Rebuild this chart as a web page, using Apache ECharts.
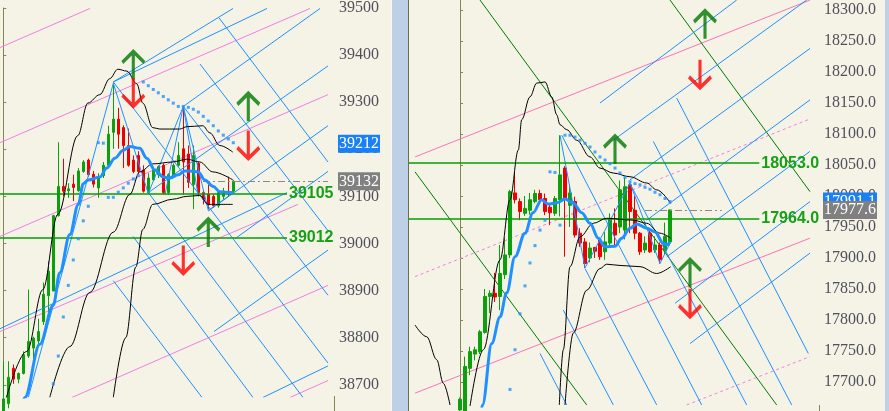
<!DOCTYPE html>
<html><head><meta charset="utf-8">
<script src="https://cdn.jsdelivr.net/npm/echarts@6/dist/echarts.min.js"></script>
<style>html,body{margin:0;padding:0;background:#F5F3E6;}#c{width:889px;height:411px;}</style>
</head><body><div id="c"></div><script>
// ---------- LEFT PANEL DATA ----------
const leftOpen  = [38640,38660,38735,38712,38724,38761,38778,38793,38834,38889,38899,39059,39121,39112,39126,39112,39153,39177,39147,39118,39144,39166,39236,39264,39246,39208,39177,39187,39156,39108,39135,39146,39166,39108,39142,39166,39201,39190,39125,39170,39108,39104,39100,39080,39100,39111,39111];
const leftHigh  = [38750,38750,38743,38726,38771,38902,38802,38840,38917,38962,39061,39215,39180,39128,39146,39160,39177,39180,39154,39149,39173,39250,39340,39288,39251,39244,39187,39196,39166,39149,39163,39166,39170,39149,39170,39215,39291,39208,39208,39173,39114,39125,39104,39112,39118,39142,39135];
const leftLow   = [38630,38650,38702,38703,38722,38757,38745,38786,38827,38844,38899,39057,39100,39097,39090,39110,39150,39142,39119,39097,39139,39163,39201,39201,39160,39163,39149,39149,39108,39106,39132,39139,39104,39104,39139,39163,39104,39118,39073,39100,39083,39073,39076,39076,39094,39100,39108];
const leftClose = [38670,38716,38712,38724,38764,38792,38799,38813,38892,38941,39059,39121,39111,39116,39119,39154,39173,39146,39126,39139,39166,39232,39264,39232,39208,39166,39153,39153,39111,39139,39156,39163,39108,39146,39166,39187,39173,39130,39187,39108,39094,39083,39080,39108,39111,39108,39132];
const leftMA = [[3,38620],[4.3,38673],[7.3,38786],[10,38869],[11.3,38938],[13.3,39019],[15,39083],[16,39127],[17,39135],[19.3,39141],[20.7,39160],[22.3,39181],[24,39198],[25.3,39206],[27.3,39202],[28.7,39181],[30.3,39156],[32,39141],[33.3,39139],[35,39146],[36.3,39154],[37.3,39154],[39,39152],[40.3,39135],[42,39121],[43.3,39110],[45.3,39108],[46,39108]];
const leftBandUpper = [[0,38650],[4.7,38771],[7.9,38902],[10.9,39062],[14.9,39229],[16.9,39298],[19.3,39316],[21.3,39350],[22.9,39370],[24.7,39366],[26.7,39339],[27.9,39298],[29.9,39246],[31.3,39243],[35.3,39243],[36.7,39248],[39.9,39250],[41.3,39235],[43.3,39208],[45.9,39194]];
const leftBandMid = [[9.3,38673],[13.3,38781],[17.3,38896],[22,39024],[25.3,39104],[27.3,39152],[29.9,39169],[33.9,39173],[36.7,39179],[39.3,39173],[41.9,39152],[45.9,39135]];
const leftBandLower = [[22,38673],[24.5,38800],[26.5,38950],[27.9,39030],[29.9,39083],[33.9,39094],[36.7,39100],[39.3,39102],[41,39083],[45.9,39083]];
const leftSAR = [[10,38702],[11,38761],[12,38844],[13,38911],[14,38965],[15,39010],[16,39048],[17,39079],[19,39214],[20,39213],[21,39098],[22,39098],[23,39109],[24,39118],[25,39128],[26,39137],[27,39144],[28,39343],[29,39335],[30,39327],[31,39320],[32,39312],[33,39305],[34,39298],[35,39291],[36,39291],[37,39289],[38,39285],[39,39279],[40,39270],[41,39260],[42,39250],[43,39239],[44,39230],[45,39222],[46,39214]];
const leftLevels = [39105, 39012];
const leftLast = 39132;
const leftSarLast = 39212;
const leftTicks = [38700,38800,38900,39000,39100,39200,39300,39400,39500];
const leftZigzag = [[5,38673],[22,39340],[29,39106],[36,39291],[41,39070],[46,39108]];
const leftBlueLines = [
  [[22,39343],[52.74,39499]],[[22,39343],[45.94,39499]],[[-0.66,38819],[56.74,39108]],
  [[22,39343],[64.94,38746]],[[43.14,39479],[64.94,39173]],[[39.34,39381],[64.94,39027]],
  [[36,39291],[64.94,38890]],[[29,39108],[59.94,38673]],[[25.94,39015],[49.94,38673]],
  [[22,38921],[39.74,38673]],[[36,39291],[63.34,39499]],[[29,39108],[64.94,39377]],
  [[41,39069],[64.94,39250]],[[46.34,39010],[64.94,39153]],[[42.14,38813],[64.94,38986]],
  [[51.94,38673],[64.94,38740]],[[36,39291],[32.34,39104]],[[36,39291],[38.94,39104]]
];
const leftPinkLines = [
  [[-0.66,39416],[17.34,39499]],[[-0.66,39214],[61.34,39499]],[[-0.66,39015],[64.94,39316]],
  [[-0.66,38813],[58.94,39083]],[[13.74,38673],[64.94,38911]],[[57.34,38673],[64.94,38709]]
];
const leftArrowsUp = [[26,39378],[49,39289],[41,39022]];
const leftArrowsDown = [[26,39321],[49,39210],[36,38966]];

// ---------- RIGHT PANEL DATA ----------
const rightOpen  = [17655,17640,17722,17745,17749,17780,17838,17843,17838,17873,17905,18005,17991,17972,17977,17991,18004,17996,17982,17972,17994,18045,17985,17991,17940,17926,17900,17917,17929,17910,17924,17956,17950,17945,18018,17977,17940,17913,17940,17913,17921,17912,17926];
const rightHigh  = [17675,17741,17757,17757,17784,17850,17848,17876,17921,17932,18010,18039,17996,18000,18005,18010,18010,18004,17988,18000,18098,18048,18018,17999,17948,17932,17925,17918,17932,17942,17972,17980,18025,18030,18021,18000,17942,17935,17944,17935,17925,17957,17978];
const rightLow   = [17650,17630,17711,17735,17745,17778,17811,17829,17816,17866,17900,17988,17961,17968,17970,17988,17988,17969,17953,17968,17967,17902,17950,17933,17918,17884,17893,17900,17897,17897,17918,17920,17940,17930,17940,17930,17905,17908,17908,17908,17891,17905,17920];
const rightClose = [17672,17725,17749,17752,17781,17838,17843,17837,17875,17905,18007,17994,17975,17980,17994,18004,17994,17975,17973,17996,18034,17996,18005,17937,17924,17891,17916,17911,17902,17926,17964,17937,18010,18015,17975,17940,17910,17924,17910,17921,17897,17935,17977.6];
const rightMA = [[4,17640],[4.5,17663],[6.34,17762],[8,17805],[9.34,17844],[11,17902],[13,17940],[14.6,17973],[16.34,17994],[17.6,17987],[19.34,17989],[21,17995],[22.6,17989],[24.34,17973],[26,17956],[27.66,17932],[29,17918],[31,17919],[32.34,17932],[34,17948],[35.34,17955],[37.34,17948],[39,17942],[40.66,17924],[41.34,17921],[42,17926]];
const rightBandUpper = [[2,17661],[4.66,17752],[8,17897],[10,17994],[11.66,18074],[12.34,18123],[14,18160],[15.34,18182],[17,18184],[18.34,18160],[19.34,18131],[20,18115],[21.34,18107],[23.34,18090],[26,18063],[28,18045],[30.66,18037],[34,18031],[37.34,18021],[39.34,18010],[42.14,17988]];
const rightBandMid = [[19.86,17663],[20.66,17752],[22,17886],[24,17934],[26.66,17956],[29.34,17964],[34.66,17961],[37.34,17956],[40,17940],[42.14,17932]];
const rightBandLower = [[21,17663],[22.66,17779],[25.34,17848],[28,17883],[29.34,17890],[32,17888],[36,17886],[39.34,17875],[42.14,17886]];
const rightBandOld = [[-9,17792],[-6.66,17773],[-4.66,17736],[-3.34,17698],[-2,17663]];
const rightSAR = [[10,17688],[11,17752],[12,17810],[13,17855],[14,17892],[15,17920],[16,17945],[17,17961],[18,18039],[19,18038],[20,17953],[21,18098],[22,18098],[23,18095],[24,18090],[25,18085],[26,18079],[27,18071],[28,18063],[29,18058],[30,18052],[31,18045],[32,18037],[33,18030],[34,18023],[35,18020],[36,18018],[37,18014],[38,18011],[39,18006],[40,18002],[41,17996],[42,17991]];
const rightLevels = [18053, 17964];
const rightLast = 17977.6;
const rightSarLast = 17991.1;
const rightTicks = [17700,17750,17800,17850,17900,17950,18000,18050,18100,18150,18200,18250,18300];
const rightZigzag = [[20,18098],[25,17884],[34,18021],[40,17891],[42,17924]];
const rightBlueLines = [
  [[16,17746],[21.34,17663]],[[20.66,17816],[30.66,17663]],[[25,17883],[39.34,17663]],
  [[20.34,18098],[48.34,17663]],[[34,18020],[57.34,17663]],[[38.66,18088],[66.34,17663]],
  [[43.34,18158],[69.66,17746]],
  [[28,18150],[55.34,18316]],[[30.66,18090],[69.34,18316]],[[34,18026],[70,18238]],
  [[37.34,17961],[70,18155]],[[41.34,17902],[70,18072]],[[43,17827],[70,17991]],[[46,17762],[70,17908]]
];
const rightPinkLines = [[[-9,18063],[70,18316]],[[-9,17682],[70,17932]]];
const rightPinkDashLines = [[[-9,17870],[69.6,18123]],[[45.34,17663],[70,17741]]];
const rightGreenLines = [[[4,18316],[63.34,17663]],[[-9,18039],[25.34,17663]],[[42,18316],[70,18007]]];
const rightArrowsUp = [[49,18276],[31,18074],[46,17875]];
const rightArrowsDown = [[48,18197],[46,17828]];

// ---------- STYLE / LAYOUT ----------
const AXIS_COLOR = '#86864F', LABEL_COLOR = '#50505C';
const SERIF = '"Liberation Serif","Times New Roman",serif';
const SANS = '"Liberation Sans",Arial,sans-serif';
const UP = '#0CA00C', DOWN = '#EE0000', BLUE = '#1E90FF';
const upPath = 'path://M0,11L11,0L22,11M11,0L11,28';
const downPath = 'path://M0,17L11,28L22,17M11,0L11,28';

const panels = [
  {o:leftOpen,h:leftHigh,l:leftLow,c:leftClose, ma:leftMA, bands:[leftBandUpper,leftBandMid,leftBandLower],
   sar:leftSAR, levels:leftLevels, last:leftLast, sarLast:leftSarLast, zig:leftZigzag, blue:leftBlueLines,
   pink:leftPinkLines, pinkColor:'#F07EE6', pinkDash:[], green:[], up:leftArrowsUp, down:leftArrowsDown,
   xmin:-0.66, xmax:66.14, ymin:38674, ymax:39500, ticks:leftTicks, fmt:v=>String(v),
   levelEnd:56.74, dashFrom:39.94, dashTo:64.94},
  {o:rightOpen,h:rightHigh,l:rightLow,c:rightClose, ma:rightMA, bands:[rightBandUpper,rightBandMid,rightBandLower,rightBandOld],
   sar:rightSAR, levels:rightLevels, last:rightLast, sarLast:rightSarLast, zig:rightZigzag, blue:rightBlueLines,
   pink:rightPinkLines, pinkColor:'#FF72B8', pinkDash:rightPinkDashLines, green:rightGreenLines, up:rightArrowsUp, down:rightArrowsDown,
   xmin:-10.2, xmax:71.8, ymin:17661.3, ymax:18316.1, ticks:rightTicks, fmt:v=>v.toFixed(1),
   levelEnd:59.86, dashFrom:37, dashTo:52.34}
];

function linesSeries(gi, list, color, width, type, z, polyline){
  return {type:'lines', coordinateSystem:'cartesian2d', xAxisIndex:gi, yAxisIndex:gi, polyline:!!polyline,
    silent:true, clip:true, z:z, lineStyle:{color:color, width:width, type:type, opacity:1, curveness:0},
    data: polyline ? [{coords:list}] : list.map(c=>({coords:c}))};
}
function curve(gi, pts, color, width, z){
  return {type:'line', xAxisIndex:gi, yAxisIndex:gi, data:pts, showSymbol:false, symbol:'none',
    smooth:0.35, smoothMonotone:'x', lineStyle:{color:color, width:width}, silent:true, z:z, clip:true};
}

const series = [];
panels.forEach((p, gi) => {
  series.push(linesSeries(gi, p.pink, p.pinkColor, 1, 'solid', 2));
  if (p.pinkDash.length) series.push(linesSeries(gi, p.pinkDash, '#F07EE6', 1, [3,3], 2));
  if (p.green.length) series.push(linesSeries(gi, p.green, '#007A00', 1, 'solid', 2));
  series.push({type:'candlestick', xAxisIndex:gi, yAxisIndex:gi, barWidth:3, silent:true, z:3,
    data: p.o.map((o,i)=>[i, o, p.c[i], p.l[i], p.h[i]]),
    itemStyle:{color:UP, color0:DOWN, borderColor:UP, borderColor0:DOWN, borderWidth:1}});
  series.push(linesSeries(gi, p.blue, BLUE, 1, 'solid', 4));
  series.push(linesSeries(gi, p.zig, BLUE, 1, 'solid', 4, true));
  p.bands.forEach(b => series.push(curve(gi, b, '#000000', 1, 5)));
  series.push(curve(gi, p.ma, BLUE, 3, 6));
  series.push({type:'scatter', xAxisIndex:gi, yAxisIndex:gi, data:p.sar, symbol:'rect', symbolSize:3,
    itemStyle:{color:BLUE}, silent:true, z:6});
  series.push({type:'scatter', xAxisIndex:gi, yAxisIndex:gi, data:p.up, symbol:upPath, symbolSize:[22,28],
    itemStyle:{color:'transparent', borderColor:'#007800', borderWidth:3.5}, silent:true, z:7});
  series.push({type:'scatter', xAxisIndex:gi, yAxisIndex:gi, data:p.down, symbol:downPath, symbolSize:[22,28],
    itemStyle:{color:'transparent', borderColor:'#FF0000', borderWidth:3.5}, silent:true, z:7});
  const mlData = [];
  p.levels.forEach(v => mlData.push([
    {coord:[p.xmin, v], lineStyle:{color:'#00A000', width:1.5, type:'solid'},
     label:{show:true, position:'end', formatter:p.fmt(v), color:'#16A016', fontFamily:SANS, fontWeight:'bold', fontSize:16, distance:2}},
    {coord:[p.levelEnd, v]}
  ]));
  mlData.push([
    {coord:[p.dashFrom, p.last], lineStyle:{color:'#8A8A8A', width:1, type:[7,3,2,3]}, label:{show:false}},
    {coord:[p.dashTo, p.last]}
  ]);
  mlData.push({yAxis:p.sarLast, lineStyle:{width:0, color:'rgba(0,0,0,0)'},
    label:{show:true, position:'end', distance:4, formatter:p.fmt(p.sarLast), backgroundColor:'#1A80F6', color:'#FFFFFF',
      fontFamily:SERIF, fontSize:16, lineHeight:18, padding:[0,1]}});
  mlData.push({yAxis:p.last, lineStyle:{width:0, color:'rgba(0,0,0,0)'},
    label:{show:true, position:'end', distance:4, formatter:p.fmt(p.last), backgroundColor:'#808080', color:'#FFFFFF',
      fontFamily:SERIF, fontSize:16, lineHeight:18, padding:[0,1]}});
  series.push({type:'line', xAxisIndex:gi, yAxisIndex:gi, data:[], z:8,
    markLine:{silent:true, symbol:['none','none'], animation:false, precision:1, data:mlData}});
});

const option = {
  backgroundColor:'#F5F3E6',
  animation:false,
  grid:[
    {left:0, right:555, top:0, bottom:14},
    {left:409, right:70, top:0, bottom:5}
  ],
  xAxis: panels.map((p,gi)=>({type:'value', gridIndex:gi, min:p.xmin, max:p.xmax, show:false})),
  yAxis: panels.map((p,gi)=>({type:'value', gridIndex:gi, position:'right', min:p.ymin, max:p.ymax, scale:true,
    splitLine:{show:false},
    axisLine:{show:true, lineStyle:{color:AXIS_COLOR, width:1}},
    axisTick:{show:true, length:3, customValues:p.ticks, lineStyle:{color:AXIS_COLOR}},
    axisLabel:{show:true, customValues:p.ticks, margin:5, color:LABEL_COLOR, fontFamily:SERIF, fontSize:16, formatter:p.fmt,
      verticalAlign:'middle', verticalAlignMaxLabel:'middle', verticalAlignMinLabel:'middle'}})),
  series: series,
  graphic:[
    {type:'rect', shape:{x:392,y:0,width:17,height:411}, style:{fill:'#BED0E6'}, silent:true, z:100},
    {type:'line', shape:{x1:391.5,y1:0,x2:391.5,y2:411}, style:{stroke:'#F8F8F8', lineWidth:1}, silent:true, z:101},
    {type:'line', shape:{x1:408.5,y1:0,x2:408.5,y2:411}, style:{stroke:'#6E6E4A', lineWidth:1}, silent:true, z:101},
    {type:'rect', shape:{x:885,y:0,width:4,height:411}, style:{fill:'#BED0E6'}, silent:true, z:100},
    {type:'line', shape:{x1:334.5,y1:396,x2:334.5,y2:411}, style:{stroke:AXIS_COLOR, lineWidth:1}, silent:true, z:101},
    {type:'line', shape:{x1:819.5,y1:405,x2:819.5,y2:411}, style:{stroke:AXIS_COLOR, lineWidth:1}, silent:true, z:101}
  ]
};
const chart = echarts.init(document.getElementById('c'), null, {renderer:'canvas'});
chart.setOption(option);
</script></body></html>
